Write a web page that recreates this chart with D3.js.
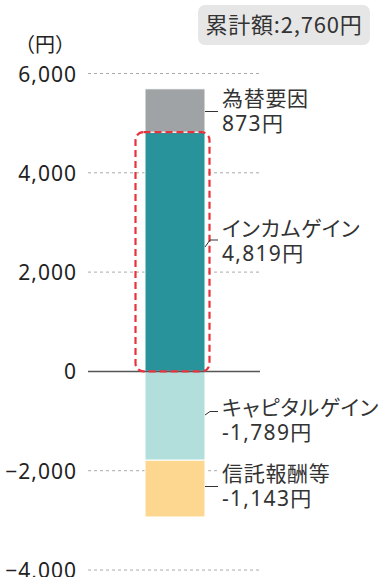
<!DOCTYPE html>
<html><head><meta charset="utf-8">
<script src="https://cdn.jsdelivr.net/npm/d3@7"></script>
<style>
html,body{margin:0;padding:0;background:#fff;}
svg{display:block;font-family:"Noto Sans","Noto Sans CJK JP",sans-serif;}
.jp{font-family:"Noto Sans CJK JP","Noto Sans",sans-serif;font-feature-settings:"palt";}
</style></head>
<body><svg id="c" width="383" height="577"></svg>
<script>
const categories = ["為替要因", "インカムゲイン", "キャピタルゲイン", "信託報酬等"];
const values = [873, 4819, -1789, -1143];
const valueLabels = ["873円", "4,819円", "-1,789円", "-1,143円"];
const colors = ["#a0a3a6", "#28939a", "#b2dfdc", "#fdd78f"];
const tickValues = [-4000, -2000, 0, 2000, 4000, 6000];
const unitLabel = "（円）";
const totalLabel = "累計額:2,760円";

const svg = d3.select("#c");
const y = d3.scaleLinear().domain([-4000, 6000]).range([570, 73.5]);
const x = d3.scaleBand().domain(["bar"]).range([145, 205]).padding(0);

// stack: positives upward from 0 (income then fx); negatives downward (capital then fee)
const order = [1, 0, 2, 3];
let pos = 0, neg = 0;
const segs = [];
order.forEach(i => {
  const v = values[i];
  let y0, y1;
  if (v >= 0) { y0 = pos; y1 = pos + v; pos = y1; }
  else { y0 = neg; y1 = neg + v; neg = y1; }
  segs.push({i, y0, y1});
});

// grid
const gx0 = 88, gx1 = 260;
svg.append("g").selectAll("line").data(tickValues.filter(d => d !== 0)).join("line")
  .attr("x1", gx0).attr("x2", gx1)
  .attr("y1", d => y(d)).attr("y2", d => y(d))
  .attr("stroke", "#aaa").attr("stroke-width", 1).attr("stroke-dasharray", "3,3");

// axis labels
const axis = d3.axisLeft(y).tickValues(tickValues).tickSize(0).tickPadding(0)
  .tickFormat(d3.format(","));
const ag = svg.append("g").attr("transform", "translate(77,0)").call(axis);
ag.select(".domain").remove();
ag.selectAll("text").attr("font-size", 21).attr("fill", "#222").attr("letter-spacing", "1px")
  .attr("font-family", "'Noto Sans',sans-serif").attr("dy", "0.36em");

svg.append("text").attr("class", "jp").attr("x", 15).attr("y", 52).attr("font-size", 20)
  .attr("fill", "#222").style("font-feature-settings", "normal").text(unitLabel);

// bars
svg.append("g").selectAll("rect").data(segs).join("rect")
  .attr("x", x("bar")).attr("width", x.bandwidth())
  .attr("y", d => y(Math.max(d.y0, d.y1)))
  .attr("height", d => Math.abs(y(d.y0) - y(d.y1)))
  .attr("fill", d => colors[d.i])
  .attr("stroke", "#fff").attr("stroke-width", 1);

// zero line
svg.append("line").attr("x1", gx0).attr("x2", gx1).attr("y1", y(0)).attr("y2", y(0))
  .attr("stroke", "#555").attr("stroke-width", 1.5);

// highlight dashed rounded rect around income gain
const inc = segs.find(s => s.i === 1);
svg.append("rect").attr("x", 135.5).attr("width", 74)
  .attr("y", y(inc.y1)).attr("height", y(inc.y0) - y(inc.y1))
  .attr("rx", 8).attr("ry", 8)
  .attr("fill", "none").attr("stroke", "#e8333d").attr("stroke-width", 2.2)
  .attr("stroke-dasharray", "7,4");

// labels with leaders
const lx = 222;
const labelPos = {
  0: {t: 106, leader: [[205, 111.5], [218, 111.5]]},
  1: {t: 236, leader: [[205, 247], [210, 240], [218, 240]]},
  2: {t: 415, leader: [[205, 415], [210, 411.5], [218, 411.5]]},
  3: {t: 481, leader: [[205, 486.5], [218, 486.5]]}
};
const lg = svg.append("g");
categories.forEach((c, i) => {
  const p = labelPos[i];
  lg.append("rect").attr("x", 219).attr("y", p.t - 20).attr("width", 160).attr("height", 50)
    .attr("fill", "#fff");
  lg.append("path").attr("d", d3.line()(p.leader)).attr("fill", "none")
    .attr("stroke", "#333").attr("stroke-width", 1);
  lg.append("text").attr("class", "jp").attr("x", lx).attr("y", p.t).attr("fill", "#333")
    .attr("font-size", 21).attr("letter-spacing", "0.7px").text(c);
  lg.append("text").attr("x", lx).attr("y", p.t + 24.5).attr("fill", "#333")
    .attr("font-size", 21).attr("letter-spacing", "1.3px").text(valueLabels[i]);
});

// total box
svg.append("rect").attr("x", 198).attr("y", 5).attr("width", 172).attr("height", 40)
  .attr("rx", 7).attr("fill", "#e6e6e6");
svg.append("text").attr("class", "jp").attr("x", 284).attr("y", 33).attr("text-anchor", "middle")
  .attr("font-size", 22).attr("fill", "#333").attr("letter-spacing", "0.8px").text(totalLabel);
</script></body></html>
